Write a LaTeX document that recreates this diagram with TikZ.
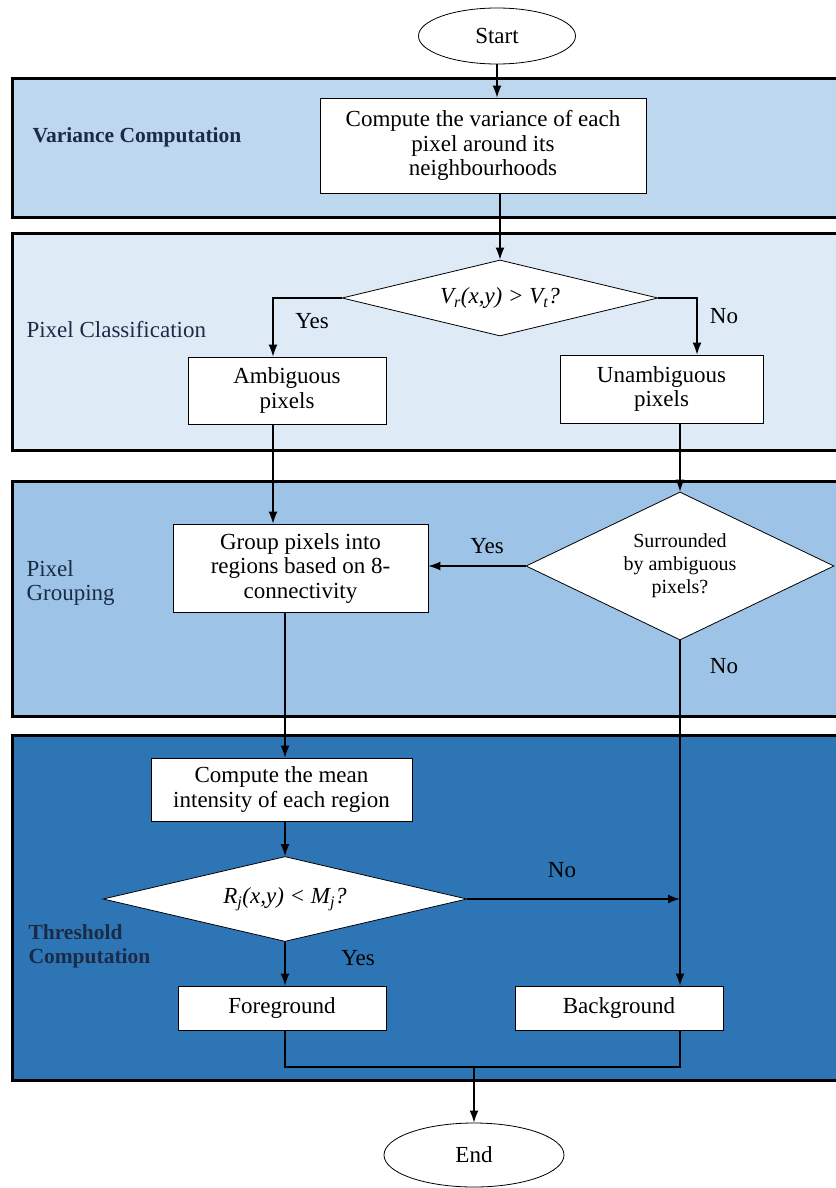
\documentclass[tikz,border=0pt]{standalone}
\usepackage{fontspec}
\setmainfont{Liberation Serif}
\usetikzlibrary{arrows.meta,shapes.geometric}
\definecolor{bandone}{HTML}{BDD7EE}
\definecolor{bandtwo}{HTML}{DEEBF7}
\definecolor{bandthree}{HTML}{9DC3E6}
\definecolor{bandfour}{HTML}{2E75B6}
\definecolor{navy}{HTML}{1A2B45}

\begin{document}
\begin{tikzpicture}[x=1pt,y=-1pt]
\tikzset{font=\fontsize{23}{24.5}\selectfont,
	align=center}
\tikzset{band/.style = {draw=black, line width=3pt}}
\tikzset{process/.style = {shape=rectangle,draw,fill=white,line width=0.8pt,inner sep=0pt}}
\tikzset{decision/.style = {shape=diamond,draw,fill=white,line width=0.8pt,inner sep=0pt}}
\tikzset{terminal/.style = {shape=ellipse,draw,fill=white,line width=0.8pt,inner sep=0pt}}
\tikzset{bandlabel/.style = {anchor=west,align=left,text=navy}}
\tikzset{edge/.style = {line width=1.4pt,> = {Latex[length=12pt,width=9pt]}}}
\useasboundingbox (0,0) rectangle (835,1188);
% bands
\draw[band,fill=bandone] (12,79) rectangle (860,217);
\draw[band,fill=bandtwo] (12,233) rectangle (860,450);
\draw[band,fill=bandthree] (12,481) rectangle (860,716);
\draw[band,fill=bandfour] (12,735) rectangle (860,1080);

\node[bandlabel,font=\fontsize{21.5}{24}\selectfont\bfseries] (vc) at (29,137) {Variance Computation};
\node[bandlabel] (pc) at (23,330) {Pixel Classification};
\node[bandlabel] (pg) at (23,583) {Pixel\\Grouping};
\node[bandlabel,font=\fontsize{21.5}{24}\selectfont\bfseries] (tc) at (25,946) {Threshold\\Computation};

% vertices
\node[terminal,minimum width=157pt,minimum height=56pt] (start) at (497,36) {Start};
\node[process,minimum width=326pt,minimum height=95pt] (var) at (483,145.5) {Compute the variance of each\\pixel around its\\neighbourhoods};
\node[decision,aspect=4.16,minimum width=316pt,minimum height=76pt] (d1) at (500,298) {\textit{V\textsubscript{r}(x,y) > V\textsubscript{t}?}};
\node[process,minimum width=198pt,minimum height=67pt] (ambig) at (287,390.5) {Ambiguous\\pixels};
\node[process,minimum width=203pt,minimum height=68pt] (unamb) at (661.5,389) {Unambiguous\\pixels};
\node[process,minimum width=255pt,minimum height=88pt] (group) at (300.5,568) {Group pixels into\\regions based on 8-\\connectivity};
\node[decision,aspect=2.08,minimum width=308pt,minimum height=148pt,font=\fontsize{20}{23}\selectfont] (d2) at (680,566) {Surrounded\\by ambiguous\\pixels?};
\node[process,minimum width=261pt,minimum height=63pt] (mean) at (281.5,789.5) {Compute the mean\\intensity of each region};
\node[decision,aspect=4.28,minimum width=364pt,minimum height=85pt] (d3) at (285,899) {\textit{R\textsubscript{j}(x,y) < M\textsubscript{j}?}};
\node[process,minimum width=208pt,minimum height=44pt] (fg) at (282,1008) {Foreground};
\node[process,minimum width=208pt,minimum height=44pt] (bg) at (619,1008) {Background};
\node[terminal,minimum width=180pt,minimum height=64pt] (end) at (474,1155) {End};
\coordinate (merge) at (474,1067);

\node (yes1) at (312,321) {Yes};
\node (no1) at (724,316) {No};
\node (yes2) at (487,546) {Yes};
\node (no2) at (724,666) {No};
\node (no3) at (562,870) {No};
\node (yes3) at (358,958) {Yes};

%edges
\draw[edge,->] (start.south) -- (start.south |- var.north);
\draw[edge,->] (var.south -| d1.north) -- (d1.north);
\draw[edge,->] (d1.west) -| ([xshift=-14pt]ambig.north);
\draw[edge,->] (d1.east) -| ([xshift=35.5pt]unamb.north);
\draw[edge,->] ([xshift=-14pt]ambig.south) -- ([xshift=-14pt]ambig.south |- group.north);
\draw[edge,->] (unamb.south -| d2.north) -- (d2.north);
\draw[edge,->] (d2.west) -- (d2.west -| group.east);
\draw[edge,->] (d2.south) -- (d2.south |- bg.north);
\draw[edge,->] (group.south -| d3.north) -- (mean.north -| d3.north);
\draw[edge,->] (mean.south -| d3.north) -- (d3.north);
\draw[edge,->] (d3.east) -- (d3.east -| d2.south);
\draw[edge,->] (d3.south) -- (d3.south |- fg.north);
\draw[edge] (fg.south -| d3.south) |- (merge) -| (bg.south -| d2.south);
\draw[edge,->] (merge) -- (end.north);
\end{tikzpicture}
\end{document}
